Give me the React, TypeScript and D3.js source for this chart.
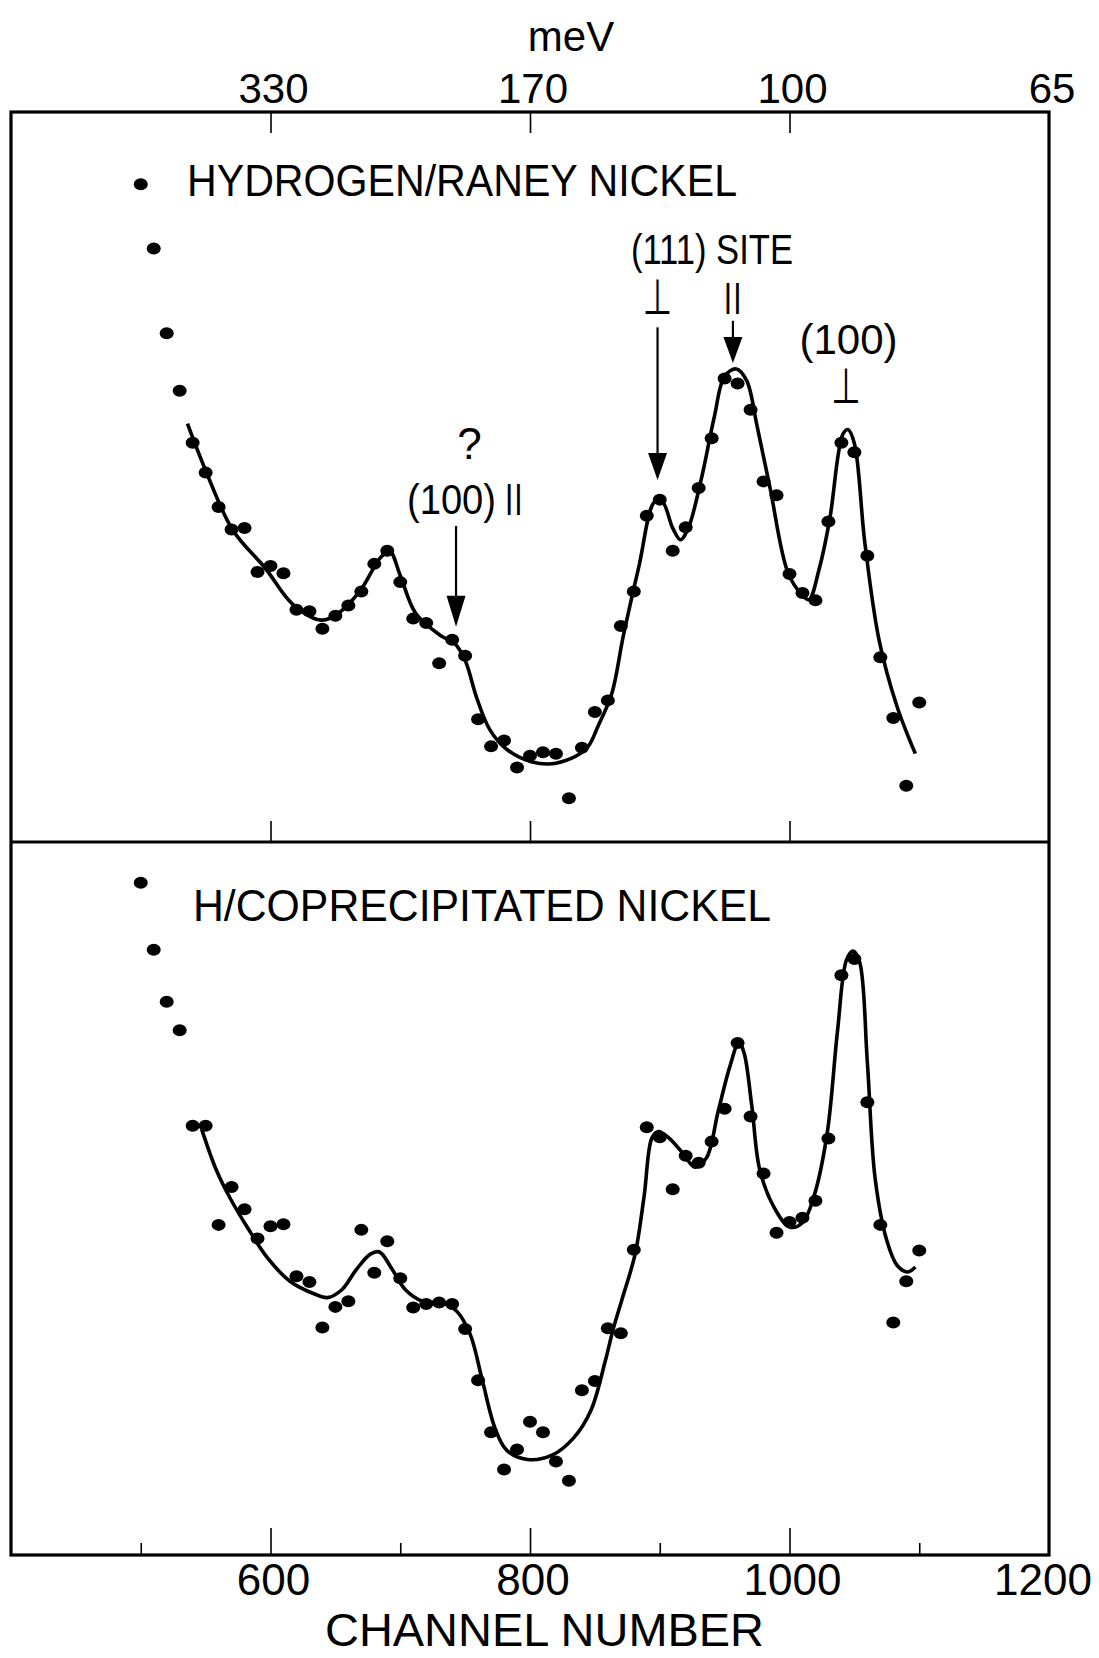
import { useEffect, useRef } from "react";
import * as d3 from "d3";

// channel numbers of the measured points (same for both spectra)
const channels = [
  500, 510, 520, 530, 540, 550, 560, 570, 580, 590, 600, 610, 620, 630, 640, 650,
  660, 670, 680, 690, 700, 710, 720, 730, 740, 750, 760, 770, 780, 790, 800, 810,
  820, 830, 840, 850, 860, 870, 880, 890, 900, 910, 920, 930, 940, 950, 960, 970,
  980, 990, 1000, 1010, 1020, 1030, 1040, 1050, 1060, 1070, 1080, 1090, 1100,
];

// intensity, arbitrary units (0-100 = panel height)
const raneyCounts = [
  90.1, 81.3, 69.7, 61.8, 54.7, 50.6, 45.9, 42.8, 43.0, 37.0, 37.8, 36.8, 31.8, 31.6, 29.2, 31.0,
  32.4, 34.3, 38.1, 39.9, 35.6, 30.6, 30.0, 24.5, 27.7, 25.5, 16.8, 13.1, 13.9, 10.2, 11.8, 12.3,
  12.1, 6.0, 12.9, 17.8, 19.4, 29.6, 34.3, 44.7, 46.9, 39.9, 43.1, 48.5, 55.3, 63.5, 62.8, 59.2,
  49.4, 47.5, 36.7, 34.1, 33.1, 43.9, 54.7, 53.4, 39.2, 25.3, 17.0, 7.7, 19.1,
];
const coprecCounts = [
  94.3, 84.9, 77.6, 73.6, 60.2, 60.2, 46.3, 51.6, 48.5, 44.4, 46.1, 46.4, 39.1, 38.3, 31.9, 34.8,
  35.6, 45.6, 39.6, 44.0, 38.8, 34.7, 35.2, 35.4, 35.2, 31.7, 24.5, 17.2, 12.0, 14.8, 18.7, 17.2,
  13.1, 10.4, 23.1, 24.4, 31.8, 31.1, 42.8, 60.0, 58.6, 51.3, 56.0, 55.0, 58.0, 62.6, 71.8, 61.5,
  53.5, 45.2, 46.7, 47.3, 49.7, 58.4, 81.3, 83.6, 63.5, 46.3, 32.6, 38.4, 42.7,
];

// hand-drawn fitted curves
const raneyFitCh = [
  536, 550, 571, 596, 617, 639, 652, 669, 685, 692, 700, 712, 731, 742, 750, 759, 769, 782, 801, 820,
  843, 853, 863, 872, 884, 896, 902, 910, 916, 922, 932, 942, 950, 959, 967, 975, 985, 999, 1010, 1015,
  1023, 1031, 1041, 1045, 1050, 1058, 1069, 1083, 1097,
];
const raneyFitVal = [
  57.3, 50.9, 42.7, 37.5, 32.6, 30.4, 31.3, 34.4, 39.0, 39.8, 36.5, 31.3, 28.3, 27.2, 24.9, 19.7, 15.4, 12.7, 11.0, 10.8,
  12.7, 16.1, 20.3, 28.3, 37.8, 46.6, 46.6, 43.0, 41.4, 43.0, 49.7, 58.2, 63.8, 64.8, 63.2, 57.0, 48.5, 36.8, 33.8, 33.2,
  37.5, 44.2, 55.8, 56.5, 54.6, 41.1, 27.7, 18.5, 12.1,
];
const coprecFitCh = [
  547, 558, 569, 582, 598, 615, 634, 644, 655, 666, 677, 684, 693, 704, 717, 734, 744, 754, 763, 773,
  782, 798, 817, 834, 847, 858, 864, 871, 881, 888, 894, 899, 907, 918, 927, 936, 945, 954, 961, 965,
  971, 977, 988, 1000, 1010, 1019, 1029, 1037, 1044, 1049, 1054, 1060, 1066, 1075, 1083, 1091, 1097,
];
const coprecFitVal = [
  59.7, 54.1, 50.0, 46.0, 41.6, 38.4, 36.6, 36.1, 37.2, 40.0, 42.2, 42.5, 40.3, 37.2, 35.6, 35.3, 34.1, 30.9, 24.7, 17.8,
  14.7, 13.4, 14.0, 16.5, 20.3, 27.2, 31.6, 35.9, 42.2, 50.4, 58.5, 59.4, 58.5, 56.3, 54.4, 55.7, 62.2, 68.5, 71.9, 70.4,
  62.9, 54.1, 48.8, 46.0, 46.6, 50.4, 59.1, 73.5, 83.5, 84.7, 83.2, 69.1, 52.8, 44.1, 40.6, 39.7, 40.4,
];

const channelLabels = [600, 800, 1000, 1200];
const majorTicks = [600, 800, 1000];
const minorTicks = [500, 700, 900, 1100];
const meVLabels = ["330", "170", "100", "65"];

const W = 1099;
const H = 1658;
const FONT = "'Liberation Sans', Arial, sans-serif";
const SYM = "'DejaVu Sans', sans-serif";

function App() {
  const node = useRef<SVGSVGElement>(null);

  useEffect(() => {
    document.body.style.margin = "0";
    const svg = d3.select(node.current);
    svg.selectAll("*").remove();

    const x = d3.scaleLinear().domain([400, 1200]).range([11, 1049]);
    const yTop = d3.scaleLinear().domain([0, 100]).range([842, 112]);
    const yBot = d3.scaleLinear().domain([0, 100]).range([1555, 842]);

    svg.append("rect").attr("width", W).attr("height", H).attr("fill", "#fff");

    // ticks (drawn with d3 axes, labels added by hand below)
    const tickAxis = (g, axis) => {
      g.call(axis);
      g.select(".domain").remove();
      g.selectAll("text").remove();
      g.selectAll("line").attr("stroke", "#000").attr("stroke-width", 1.6);
    };
    svg.append("g").attr("transform", `translate(0,${yTop(100)})`)
      .call(g => tickAxis(g, d3.axisBottom(x).tickValues(majorTicks).tickSize(21)));
    svg.append("g").attr("transform", `translate(0,${yTop(0)})`)
      .call(g => tickAxis(g, d3.axisTop(x).tickValues(majorTicks).tickSize(21)));
    svg.append("g").attr("transform", `translate(0,${yBot(0)})`)
      .call(g => tickAxis(g, d3.axisTop(x).tickValues(majorTicks).tickSize(27)));
    svg.append("g").attr("transform", `translate(0,${yBot(0)})`)
      .call(g => tickAxis(g, d3.axisTop(x).tickValues(minorTicks).tickSize(12)));

    // frame + divider
    svg.append("rect")
      .attr("x", x(400)).attr("y", yTop(100))
      .attr("width", x(1200) - x(400)).attr("height", yBot(0) - yTop(100))
      .attr("fill", "none").attr("stroke", "#000").attr("stroke-width", 3.2);
    svg.append("line")
      .attr("x1", x(400)).attr("x2", x(1200)).attr("y1", yTop(0)).attr("y2", yTop(0))
      .attr("stroke", "#000").attr("stroke-width", 3.2);

    // top meV labels
    svg.append("g").selectAll("text").data(meVLabels).join("text")
      .attr("x", (d, i) => x(channelLabels[i]) + 3).attr("y", 103)
      .attr("text-anchor", "middle").attr("font-family", FONT).attr("font-size", 42)
      .text(d => d);
    svg.append("text").attr("x", 571).attr("y", 51).attr("text-anchor", "middle")
      .attr("font-family", FONT).attr("font-size", 42).text("meV");

    // bottom channel labels (last one kept inside the page)
    svg.append("g").selectAll("text").data(channelLabels).join("text")
      .attr("x", d => Math.min(x(d) + 3, 1043)).attr("y", 1595)
      .attr("text-anchor", "middle").attr("font-family", FONT).attr("font-size", 44)
      .text(d => d);
    svg.append("text").attr("x", 325).attr("y", 1646)
      .attr("font-family", FONT).attr("font-size", 46)
      .attr("textLength", 439).attr("lengthAdjust", "spacingAndGlyphs")
      .text("CHANNEL NUMBER");

    // panel titles
    svg.append("text").attr("x", 187).attr("y", 196)
      .attr("font-family", FONT).attr("font-size", 44)
      .attr("textLength", 550).attr("lengthAdjust", "spacingAndGlyphs")
      .text("HYDROGEN/RANEY NICKEL");
    svg.append("text").attr("x", 193).attr("y", 921)
      .attr("font-family", FONT).attr("font-size", 45)
      .attr("textLength", 578).attr("lengthAdjust", "spacingAndGlyphs")
      .text("H/COPRECIPITATED NICKEL");

    // fitted curves
    const lineTop = d3.line<number>()
      .x(d => x(d))
      .y((d, i) => yTop(raneyFitVal[i]))
      .curve(d3.curveCatmullRom.alpha(0.5));
    const lineBot = d3.line<number>()
      .x(d => x(d))
      .y((d, i) => yBot(coprecFitVal[i]))
      .curve(d3.curveCatmullRom.alpha(0.5));
    svg.append("path").attr("d", lineTop(raneyFitCh))
      .attr("fill", "none").attr("stroke", "#000").attr("stroke-width", 3.6);
    svg.append("path").attr("d", lineBot(coprecFitCh))
      .attr("fill", "none").attr("stroke", "#000").attr("stroke-width", 3.6);

    // data points
    svg.append("g").selectAll("ellipse").data(channels).join("ellipse")
      .attr("cx", d => x(d)).attr("cy", (d, i) => yTop(raneyCounts[i]))
      .attr("rx", 7).attr("ry", 6).attr("fill", "#000");
    svg.append("g").selectAll("ellipse").data(channels).join("ellipse")
      .attr("cx", d => x(d)).attr("cy", (d, i) => yBot(coprecCounts[i]))
      .attr("rx", 7).attr("ry", 6).attr("fill", "#000");

    // annotations (top panel), placed in channel / intensity units
    const ann = svg.append("g").attr("font-family", FONT);
    const label = (ch, v, txt, size, len?) => {
      const t = ann.append("text").attr("x", x(ch)).attr("y", yTop(v))
        .attr("font-size", size).text(txt);
      if (len) t.attr("textLength", len).attr("lengthAdjust", "spacingAndGlyphs");
      else t.attr("text-anchor", "middle");
      return t;
    };
    // perpendicular sign, stretched to the tall hand lettering
    const perp = (ch, v) => {
      ann.append("text")
        .attr("transform", `translate(${x(ch)},${yTop(v)}) scale(1,1.45)`)
        .attr("text-anchor", "middle").attr("font-family", SYM).attr("font-size", 34)
        .text("⊥");
    };
    // parallel sign, drawn as two thin bars of lettering
    const para = (ch, v) => {
      ann.append("text").attr("x", x(ch)).attr("y", yTop(v))
        .attr("text-anchor", "middle").attr("font-family", FONT).attr("font-size", 34)
        .attr("letter-spacing", 0.5)
        .text("||");
    };
    const arrow = (ch, v0, v1, headH) => {
      const cx = x(ch);
      const y0 = yTop(v0);
      const y1 = yTop(v1);
      ann.append("line").attr("x1", cx).attr("x2", cx).attr("y1", y0).attr("y2", y1 - headH + 2)
        .attr("stroke", "#000").attr("stroke-width", 2.2);
      ann.append("path")
        .attr("d", `M${cx - 9.5},${y1 - headH} L${cx + 9.5},${y1 - headH} L${cx},${y1} Z`)
        .attr("fill", "#000");
    };

    label(877.8, 79.2, "(111) SITE", 42, 162);
    perp(898.3, 72.3);
    para(956.4, 73.3);
    arrow(898.3, 70.5, 49.6, 27);
    arrow(956.4, 71.4, 65.6, 26);
    label(1045.5, 66.8, "(100)", 42);
    perp(1043.5, 60.1);
    label(753.4, 52.5, "?", 44);
    label(705.2, 44.9, "(100)", 42, 89);
    para(787.7, 45.8);
    arrow(743, 43.3, 29.5, 31);
  }, []);

  return <svg ref={node} width={W} height={H} style={{ display: "block" }} />;
}

export default App;
